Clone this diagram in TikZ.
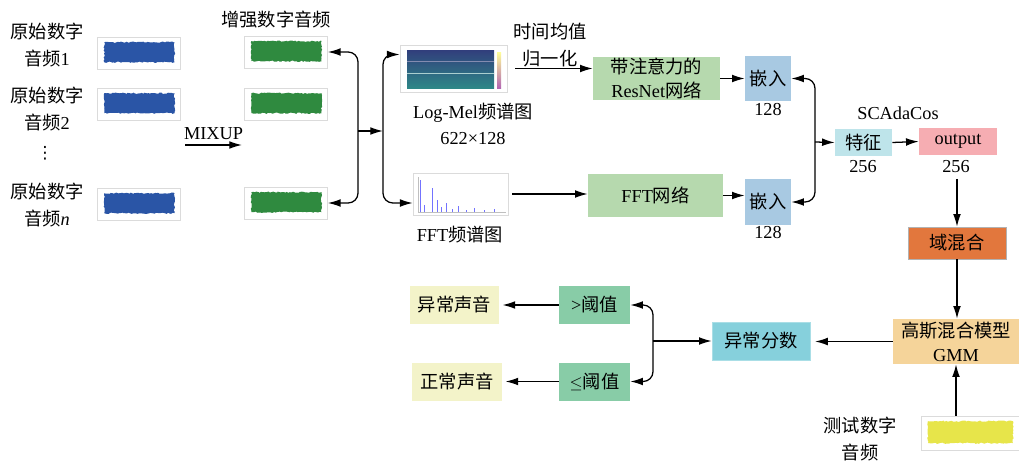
\documentclass[tikz,border=0pt]{standalone}
\usepackage{fontspec}
\setmainfont{Liberation Serif}
\newfontfamily\cjk{Noto Sans CJK SC}
\newfontfamily\symfont{DejaVu Sans}
\newcommand{\zh}[1]{{\cjk #1}}
\usetikzlibrary{arrows.meta}
\usetikzlibrary{decorations.pathmorphing}

\definecolor{netgreen}{HTML}{B6D9AE}
\definecolor{embblue}{HTML}{A8C9E2}
\definecolor{featcyan}{HTML}{BEE4EA}
\definecolor{outpink}{HTML}{F6ADB2}
\definecolor{mixorange}{HTML}{E2773D}
\definecolor{gmmtan}{HTML}{F5D49A}
\definecolor{scorecyan}{HTML}{86D0DC}
\definecolor{threshgreen}{HTML}{88CCA7}
\definecolor{soundyellow}{HTML}{F3F3C9}
\definecolor{waveblue}{HTML}{2A55A6}
\definecolor{wavegreen}{HTML}{2F8A3F}
\definecolor{waveyellow}{HTML}{E7E54A}
\definecolor{melnavy}{HTML}{313E7C}
\definecolor{melteal}{HTML}{2E8787}

\tikzstyle{block}=[inner sep=0pt, align=center, font=\fontsize{13pt}{17pt}\selectfont]
\tikzstyle{note}=[inner sep=1pt, align=center, font=\fontsize{13pt}{19pt}\selectfont]
\tikzstyle{frame}=[draw=black!14, line width=0.5pt, inner sep=0pt]
\tikzstyle{flow}=[line width=0.9pt, -{Latex[length=9pt,width=5.5pt]}]
\tikzstyle{fork}=[line width=0.9pt, {Latex[length=9pt,width=5.5pt]}-{Latex[length=9pt,width=5.5pt]}, rounded corners=7pt]
\tikzset{wave/.style={frame, minimum width=2.075cm, minimum height=0.8cm,
    path picture={\fill[#1, decorate, decoration={random steps, segment length=1.2pt, amplitude=0.5pt}]
      ([xshift=0.17cm, yshift=0.17cm]path picture bounding box.south west) rectangle
      ([xshift=-0.15cm, yshift=-0.13cm]path picture bounding box.north east);}}}

\begin{document}
\begin{tikzpicture}[x=0.025cm, y=-0.025cm]
  \useasboundingbox (0,0) rectangle (1019,461);

  % input and mixed audio
  \node[wave=waveblue] (raw1) at (139,53) {};
  \node[wave=waveblue] (raw2) at (139,104) {};
  \node[wave=waveblue] (rawn) at (139,204) {};
  \node[note] (raw1 text) at (47,45) {\zh{原始数字}\\\zh{音频}1};
  \node[note] (raw2 text) at (47,109) {\zh{原始数字}\\\zh{音频}2};
  \node[note, inner sep=0pt, font=\symfont\fontsize{12pt}{14pt}\selectfont] (dots) at (45,153) {⋮};
  \node[note] (rawn text) at (47,205) {\zh{原始数字}\\\zh{音频}\textit{n}};

  \node[wave=wavegreen] (aug1) at (286,52) {};
  \node[wave=wavegreen] (aug2) at (286,104) {};
  \node[wave=wavegreen] (augn) at (286,203) {};
  \node[note] (aug text) at (276,20) {\zh{增强数字音频}};

  \coordinate (mix in) at (185,145);
  \coordinate (mix out) at (242,145);
  \draw[flow] (mix in) -- node[note, above=2pt] {MIXUP} (mix out);

  % log-mel spectrogram
  \shade[top color=melnavy, bottom color=melteal] (407,50) rectangle (494,88);
  \draw[melteal!40!white, line width=0.6pt] (407,73) -- (494,73);
  \draw[melnavy!60!white, line width=0.4pt] (407,61) -- (494,61);
  \shade[top color=yellow!40!white, bottom color=violet!60!white] (497,52) rectangle (501,88);
  \node[frame, minimum width=2.675cm, minimum height=1.175cm] (mel) at (453.5,68.5) {};
  \node[note] (mel text) at (473,124) {Log-Mel\zh{频谱图}\\622×128};

  % fft spectrum
  \draw[black!25, line width=0.3pt] (418,177) -- (418,212) -- (506,212);
  \foreach \x/\top in {420/180, 424/205, 432/188, 437/200, 441/207, 446/203, 452/209,
                       458/206, 466/210, 474/208, 484/210, 494/209}
    \draw[blue!55, line width=0.7pt] (\x,212) -- (\x,\top);
  \node[frame, minimum width=2.375cm, minimum height=1.05cm] (fft) at (460.5,194) {};
  \node[note] (fft text) at (460,235) {FFT\zh{频谱图}};

  \coordinate (fork1) at (358,131);
  \coordinate (fork2) at (383,131);
  \draw[fork] (aug1.east) -| (fork1) |- (augn.east);
  \draw[flow] (fork1) -- (fork2);
  \draw[fork] ([yshift=0.35cm]mel.west) -| (fork2) |- ([yshift=-0.225cm]fft.west);

  % networks
  \node[block, fill=netgreen, minimum width=3.175cm, minimum height=1.075cm] (resnet) at (656.5,78.5)
    {\zh{带注意力的}\\ResNet\zh{网络}};
  \node[block, fill=netgreen, minimum width=3.375cm, minimum height=1.075cm] (fftnet) at (655.5,195.5)
    {FFT\zh{网络}};
  \node[note] (norm text) at (550,45) {\zh{时间均值}\\\zh{归一化}};
  \draw[flow, shorten <=0.2cm] (mel.east) -- (mel.east -| resnet.west);
  \draw[flow, shorten <=0.1cm] (fft.east) -- (fft.east -| fftnet.west);

  \node[block, fill=embblue, minimum width=1.15cm, minimum height=1.125cm] (emb top) at (768,78.5) {\zh{嵌入}};
  \node[block, fill=embblue, minimum width=1.15cm, minimum height=1.125cm] (emb bot) at (768,202) {\zh{嵌入}};
  \node[note] (emb top dim) at (768,110) {128};
  \node[note] (emb bot dim) at (768,233) {128};
  \draw[flow] (resnet.east) -- (emb top.west);
  \draw[flow] (fftnet.east) -- (fftnet.east -| emb bot.west);

  % scadacos head
  \node[block, fill=featcyan, minimum width=1.425cm, minimum height=0.675cm] (feat) at (863.5,142.5) {\zh{特征}};
  \node[note] (feat dim) at (863,167) {256};
  \node[note] (head text) at (898,113) {SCAdaCos};
  \node[block, fill=outpink, minimum width=1.95cm, minimum height=0.675cm] (out) at (958,141.5) {output};
  \node[note] (out dim) at (956,167) {256};
  \coordinate (fork3) at (815,142);
  \draw[fork] (emb top.east) -| (fork3) |- (emb bot.east);
  \draw[flow] (fork3) -- (feat.west);
  \draw[flow] (feat.east) -- (out.west);

  \node[block, fill=mixorange, draw=black!30, minimum width=2.45cm, minimum height=0.8cm] (mix) at (957,243) {\zh{域混合}};
  \node[block, fill=gmmtan, minimum width=3.15cm, minimum height=1.125cm] (gmm) at (956,341.5)
    {\zh{高斯混合模型}\\GMM};
  \draw[flow, shorten <=0.1cm] (mix.north |- out dim.south) -- (mix.north);
  \draw[flow] (mix.south) -- (mix.south |- gmm.north);

  % test audio
  \node[wave=waveyellow, minimum width=2.45cm, minimum height=0.85cm] (test) at (970,433) {};
  \node[note] (test text) at (860,439) {\zh{测试数字}\\\zh{音频}};
  \draw[flow] (test.north -| gmm.south) -- (gmm.south);

  % scoring and decision
  \node[block, fill=scorecyan, draw=scorecyan!70!white, minimum width=2.45cm, minimum height=0.95cm] (score) at (761,341) {\zh{异常分数}};
  \draw[flow, shorten >=0.12cm] (gmm.west) -- (gmm.west -| score.east);

  \node[block, fill=threshgreen, minimum width=1.775cm, minimum height=0.95cm] (gt) at (594.5,305) {>\zh{阈值}};
  \node[block, fill=threshgreen, minimum width=1.775cm, minimum height=0.95cm] (le) at (594.5,381.5) {$\leq$\zh{阈值}};
  \node[block, fill=soundyellow, minimum width=2.225cm, minimum height=0.95cm] (abn) at (454.5,305) {\zh{异常声音}};
  \node[block, fill=soundyellow, minimum width=2.25cm, minimum height=0.95cm] (nor) at (457,381.5) {\zh{正常声音}};
  \coordinate (fork4) at (653,341);
  \draw[fork] (gt.east) -| (fork4) |- (le.east);
  \draw[flow] (fork4) -- (score.west);
  \draw[flow, shorten >=0.08cm] (gt.west) -- (abn.east);
  \draw[flow, shorten >=0.08cm] (le.west) -- (nor.east);
\end{tikzpicture}
\end{document}
